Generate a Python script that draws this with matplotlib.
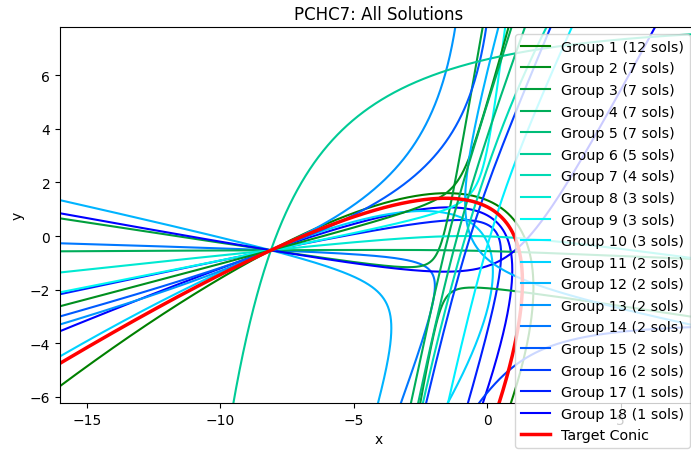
import numpy as np
import matplotlib
matplotlib.use("Agg")
import matplotlib.pyplot as plt
from matplotlib.colors import LinearSegmentedColormap
from matplotlib.lines import Line2D
import contourpy

# solutions per group (legend)
group_sols = [12, 7, 7, 7, 7, 5, 4, 3, 3, 3, 2, 2, 2, 2, 2, 2, 1, 1]

# every conic is fixed by 5 points
P1 = (-8.1, -0.53)
P2 = (1.27, -0.2)

target_pts = [(-16, -4.75), P1, (-1.57, 1.41), (1.3, -1.2), (0.45, -6.22)]

# (group, five points on the drawn branch)
solution_pts = [
    # arches over the top, coming back down on the right
    (1,  [(-16, -5.6), P1, (-1.54, 1.6), (1.72, -1.5), (0.9, -6.2)]),
    (18, [(-16, -3.55), P1, (-1.5, 1.07), (0.9, -0.66), (-0.15, -6.2)]),
    (17, [(-16, -2.17), P1, (-1.35, 0.59), (0.45, -1.5), (-0.71, -6.2)]),
    (11, [(-16, -4.49), P1, (-1.8, 0.9), (0.2, -1.0), (-1.46, -6.2)]),
    # rays bending down towards the bottom
    (12, [(-16, 1.34), P1, (-4.46, -1.8), (-3.63, -4.04), (-4.08, -6.2)]),
    (14, [(-16, -0.27), P1, (-3.0, -0.9), (-2.0, -2.3), (-3.22, -6.2)]),
    (3,  [(-16, 0.66), P1, (-2.4, -1.1), (-1.6, -2.4), (-2.5, -6.2)]),
    # nearly flat ones running to the right
    (4,  [(-16, -0.57), P1, (-3.0, -0.52), (1.3, -0.6), (7.6, -0.85)]),
    (8,  [(-16, -1.36), P1, (-4.0, -0.15), (-1.0, 0.0), (3.5, -0.3)]),
    (18, [(-16, 0.85), P1, (-0.71, -1.28), (1.05, -0.53), (4.64, 4.8)]),
    # rays bending up to the top
    (13, [(-16, -3.3), P1, (-4.46, 1.56), (-2.35, 4.06), (-1.2, 7.75)]),
    (15, [(-16, -3.0), P1, (-4.46, 1.07), (-1.2, 4.06), (-0.04, 7.75)]),
    (9,  [(-16, -2.1), P1, (-2.47, 0.7), (0.15, 4.06), (0.67, 7.75)]),
    (2,  [(-16, -2.62), P1, (-2.58, 1.07), (-0.71, 2.83), (0.79, 7.75)]),
    (6,  [(-9.5, -6.2), P1, (-5.32, 4.06), (-1.72, 6.11), (4.6, 7.3)]),
    # steep branches crossing the middle
    (12, [(0.41, 7.75), (-0.82, 1.56), (-0.07, -0.79), (1.42, -1.65), (7.6, -3.3)]),
    (4,  [(-2.85, -6.2), (-2.0, -2.3), (-1.1, 1.3), (-0.1, 4.6), (0.9, 7.75)]),
    (5,  [(-2.58, -6.2), (-1.7, -2.3), (-0.75, 1.3), (0.3, 4.6), (1.4, 7.75)]),
    (7,  [(-2.4, -6.2), (-1.5, -2.5), (-0.5, 1.0), (0.7, 4.4), (2.2, 7.75)]),
    (16, [(-2.28, -6.2), (-1.35, -2.5), (-0.3, 1.0), (0.9, 4.2), (2.36, 7.75)]),
    (10, [(-1.46, -6.2), (-0.6, -2.6), (0.3, 0.6), (1.3, 3.4), (2.6, 6.5)]),
    (16, [(-0.5, -6.5), (0.5, -5.3), (1.54, -4.5), (3.5, -3.8), (7.6, -3.4)]),
]


def conic_from_points(pts):
    p = np.asarray(pts, dtype=float) / 10.0
    x, y = p[:, 0], p[:, 1]
    M = np.column_stack([x * x, x * y, y * y, x, y, np.ones_like(x)])
    _, _, vt = np.linalg.svd(M)
    return vt[-1]


xs = np.linspace(-16.5, 8.5, 1500)
ys = np.linspace(-6.8, 8.3, 950)
X, Y = np.meshgrid(xs / 10.0, ys / 10.0)


def branches(pts, tol=0.08):
    """Zero set of the conic, keeping only the branches through the points."""
    a, b, c, d, e, f = conic_from_points(pts)
    Z = a * X**2 + b * X * Y + c * Y**2 + d * X + e * Y + f
    gen = contourpy.contour_generator(xs, ys, Z,
                                      line_type=contourpy.LineType.Separate)
    pts = np.asarray(pts, dtype=float)
    keep = []
    for seg in gen.lines(0.0):
        dist = np.hypot(seg[:, None, 0] - pts[None, :, 0],
                        seg[:, None, 1] - pts[None, :, 1]).min()
        if dist < tol:
            keep.append(seg)
    return keep


cmap = LinearSegmentedColormap.from_list("gcb", ["green", "cyan", "blue"])
n_groups = len(group_sols)
colors = [cmap(i / (n_groups - 1)) for i in range(n_groups)]

fig = plt.figure(figsize=(6.91, 4.52), dpi=100)
ax = fig.add_axes([60 / 691, 48 / 452, 637 / 691, 376 / 452])

for g, pts in solution_pts:
    for seg in branches(pts):
        ax.plot(seg[:, 0], seg[:, 1], color=colors[g - 1], lw=1.5)

for seg in branches(target_pts):
    ax.plot(seg[:, 0], seg[:, 1], color="red", lw=2.5)

handles = [Line2D([], [], color=colors[i], lw=1.5,
                  label=f"Group {i + 1} ({n} sols)")
           for i, n in enumerate(group_sols)]
handles.append(Line2D([], [], color="red", lw=2.5, label="Target Conic"))
ax.legend(handles=handles, loc="upper right", fontsize=10.3, labelspacing=0.53)

ax.set_xlim(-16, 7.86)
ax.set_ylim(-6.23, 7.8)
ax.set_xlabel("x")
ax.set_ylabel("y")
ax.set_title("PCHC7: All Solutions")

fig.savefig("out.png", dpi=100)
